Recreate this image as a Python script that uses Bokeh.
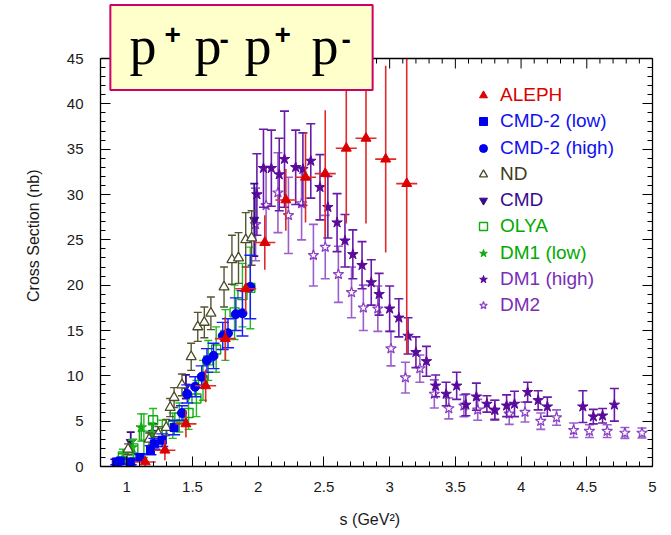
import math
import numpy as np
from bokeh.plotting import figure
from bokeh.models import (LinearAxis, SingleIntervalTicker, Range1d, Label, Span,
                          Legend, LegendItem, CustomJSTickFormatter)
from bokeh.embed import file_html
from bokeh.resources import INLINE

# ---------------- data ----------------
aleph_s = [1.14, 1.29, 1.45, 1.60, 1.75, 1.905, 2.05, 2.21, 2.36, 2.51, 2.67, 2.82, 2.97, 3.13]
aleph_v = [0.5, 1.8, 4.7, 8.9, 14.1, 19.6, 24.7, 29.4, 31.9, 32.3, 35.1, 36.2, 33.9, 31.2]
aleph_e = [0.5, 1.1, 1.5, 1.8, 2.4, 2.5, 3.0, 3.4, 5.0, 7.0, 8.3, 9.4, 10.3, 18.9]
aleph_xe = [0.08, 0.08, 0.08, 0.08, 0.08, 0.08, 0.08, 0.08, 0.08, 0.08, 0.08, 0.08, 0.08, 0.08]

cmd2l_s = [0.92, 0.95, 1.03, 1.10, 1.18, 1.21, 1.27, 1.36]
cmd2l_v = [0.5, 0.6, 0.5, 1.0, 1.8, 2.5, 2.9, 4.3]
cmd2l_e = [0.3, 0.3, 0.3, 0.4, 0.5, 0.6, 0.7, 0.8]

cmd2h_s = [1.42, 1.46, 1.52, 1.57, 1.61, 1.66, 1.73, 1.77, 1.83, 1.88, 1.94]
cmd2h_v = [5.9, 8.0, 8.8, 9.9, 11.7, 12.2, 14.4, 14.7, 16.8, 16.9, 19.8]
cmd2h_e = [0.8, 1.0, 1.1, 1.2, 1.3, 1.4, 1.5, 1.6, 1.8, 2.5, 3.5]

nd_s = [1.01, 1.17, 1.24, 1.30, 1.33, 1.36, 1.42, 1.49, 1.54, 1.59, 1.64, 1.74, 1.80, 1.85, 1.905, 1.95]
nd_v = [1.9, 3.0, 3.6, 4.3, 6.5, 7.6, 9.0, 12.1, 15.4, 15.9, 16.9, 19.8, 22.8, 23.0, 25.0, 25.2]
nd_e = [0.6, 0.7, 0.8, 0.9, 1.0, 1.1, 1.2, 1.5, 1.6, 1.7, 1.8, 2.2, 2.7, 2.8, 3.0, 3.0]

cmd_s = [1.03, 1.20, 1.45, 1.97]
cmd_v = [2.7, 3.7, 8.8, 27.2]
cmd_e = [1.1, 1.0, 1.3, 4.0]

olya_s = [0.97, 1.05, 1.13, 1.20, 1.27, 1.35, 1.40, 1.47, 1.53, 1.58, 1.62, 1.68, 1.75, 1.82, 1.88, 1.94]
olya_v = [1.1, 2.0, 3.4, 5.1, 3.9, 4.5, 5.4, 5.9, 7.5, 9.5, 11.7, 12.9, 14.5, 17.0, 18.9, 19.7]
olya_e = [0.8, 1.0, 2.4, 1.3, 1.2, 1.4, 1.6, 1.8, 2.0, 2.2, 2.2, 2.5, 2.8, 3.0, 3.5, 4.5]

dm1l_s = [0.97, 1.04, 1.11, 1.19, 1.27]
dm1l_v = [0.9, 2.1, 4.3, 3.6, 3.2]
dm1l_e = [0.5, 0.8, 1.5, 1.2, 1.0]

dm1h_s = [1.99, 2.04, 2.10, 2.16, 2.20, 2.285, 2.34, 2.40, 2.47, 2.53, 2.60, 2.66, 2.72, 2.79,
          2.86, 2.92, 3.00, 3.07, 3.14, 3.20, 3.28, 3.35, 3.43, 3.51, 3.58, 3.66, 3.74, 3.80,
          3.89, 3.95, 4.05, 4.13, 4.20, 4.47, 4.55, 4.62, 4.71]
dm1h_v = [30.0, 32.9, 32.9, 32.2, 33.9, 33.0, 32.8, 33.7, 30.8, 28.6, 26.9, 24.9, 23.4, 22.2,
          20.3, 19.0, 17.4, 16.4, 14.4, 12.6, 11.6, 8.9, 8.0, 8.9, 6.8, 7.7, 6.9, 6.25,
          6.7, 6.9, 8.2, 7.3, 6.6, 6.6, 5.5, 5.6, 6.8]
dm1h_e = [4.5, 4.3, 4.2, 4.0, 5.3, 4.1, 4.0, 4.1, 3.6, 3.4, 3.2, 2.9, 2.7, 2.6,
          2.5, 2.3, 2.5, 2.1, 2.0, 1.7, 1.65, 1.2, 1.3, 1.5, 1.2, 1.5, 0.9, 1.05,
          1.2, 1.4, 1.1, 1.05, 1.05, 1.75, 0.8, 0.8, 1.8]

dm2_s = [1.98, 2.06, 2.15, 2.23, 2.33, 2.42, 2.51, 2.61, 2.71, 2.80, 2.91, 3.01, 3.12, 3.23,
         3.34, 3.45, 3.565, 3.67, 3.80, 3.91, 4.03, 4.15, 4.27, 4.40, 4.52, 4.655, 4.79, 4.92]
dm2_v = [26.7, 28.8, 30.2, 27.7, 29.0, 23.3, 24.2, 21.2, 19.2, 17.5, 17.4, 13.0, 9.8, 10.8,
         8.0, 6.4, 6.7, 6.25, 6.2, 5.8, 6.0, 5.0, 5.4, 4.0, 3.9, 3.9, 3.7, 3.7]
dm2_e = [4.0, 4.3, 4.4, 4.2, 4.0, 3.4, 3.5, 3.1, 2.8, 2.5, 2.5, 1.9, 1.7, 1.5,
         1.55, 1.15, 1.2, 1.15, 1.1, 1.15, 1.1, 0.9, 0.85, 0.8, 0.7, 0.7, 0.6, 0.55]

legend_labels = ["ALEPH", "CMD-2 (low)", "CMD-2 (high)", "ND", "CMD", "OLYA",
                 "DM1 (low)", "DM1 (high)", "DM2"]
legend_colors = ["#dd0000", "#1111ee", "#1111ee", "#3b3b1e", "#3a0a8c", "#00aa00",
                 "#00aa00", "#7a2eb8", "#7a2eb8"]

title_base = ["p", "p", "p", "p"]
title_sup = ["+", "-", "+", "-"]

# axis extent
X_MIN, X_MAX = 0.8, 5.0
Y_MIN, Y_MAX = 0.0, 45.0

# ---------------- figure ----------------
# The frame reaches the top of the canvas so that the title box (which overlaps the
# top border of the plot) is not clipped; the visible top border is drawn at Y_MAX.
FRAME_H = 466.0
AXIS_TOP_PX = 58.0
y_top_view = Y_MAX * FRAME_H / (FRAME_H - AXIS_TOP_PX)

p = figure(width=671, height=535, x_range=Range1d(X_MIN, X_MAX),
           y_range=Range1d(Y_MIN, y_top_view),
           output_backend="svg", toolbar_location=None,
           min_border_left=100, min_border_right=19, min_border_top=0, min_border_bottom=69)
p.xgrid.visible = False
p.ygrid.visible = False
p.outline_line_color = None
p.background_fill_color = "white"
p.border_fill_color = "white"

bottom_ax = p.below[0]
left_ax = p.left[0]

xt = SingleIntervalTicker(interval=0.5, num_minor_ticks=5)
yt = SingleIntervalTicker(interval=5, num_minor_ticks=5)
bottom_ax.ticker = xt
left_ax.ticker = yt
left_ax.bounds = (Y_MIN, Y_MAX)
blank = CustomJSTickFormatter(code="return ''")
right_ax = LinearAxis(ticker=yt, formatter=blank, major_label_standoff=0,
                      major_label_text_font_size="8px", bounds=(Y_MIN, Y_MAX))
p.add_layout(right_ax, "right")

for ax in [bottom_ax, left_ax, right_ax]:
    ax.major_tick_in = 10
    ax.major_tick_out = 0
    ax.minor_tick_in = 5
    ax.minor_tick_out = 0
    ax.axis_line_color = "black"
    ax.axis_line_width = 1.3
    ax.major_tick_line_color = "black"
    ax.minor_tick_line_color = "black"

for ax in [bottom_ax, left_ax]:
    ax.major_label_text_font = "Liberation Sans"
    ax.major_label_text_font_size = "15px"
    ax.major_label_text_color = "#1a1a1a"
    ax.axis_label_text_font = "Liberation Sans"
    ax.axis_label_text_font_size = "16px"
    ax.axis_label_text_font_style = "normal"
    ax.axis_label_text_color = "#1a1a1a"

left_ax.major_label_standoff = 17
left_ax.axis_label = "Cross Section  (nb)"
left_ax.axis_label_standoff = 22
bottom_ax.major_label_standoff = 15
bottom_ax.axis_label = "s    (GeV\u00b2)"
bottom_ax.axis_label_standoff = 16

# top border with inward ticks (same tick spacing as the bottom axis)
p.add_layout(Span(location=Y_MAX, dimension="width", line_color="black", line_width=1.3))
top_ticks = np.round(np.arange(X_MIN, X_MAX + 1e-9, 0.1), 2)
top_major = [t for t in top_ticks if abs(t * 2 - round(t * 2)) < 1e-6]
top_minor = [t for t in top_ticks if abs(t * 2 - round(t * 2)) >= 1e-6]
p.ray(x=top_major, y=Y_MAX, length=10, length_units="screen", angle=-math.pi / 2,
      line_color="black", line_width=1)
p.ray(x=top_minor, y=Y_MAX, length=5, length_units="screen", angle=-math.pi / 2,
      line_color="black", line_width=1)


def errbars(s, v, e, color, cap=8, width=1.4, xerr=None):
    lo = [max(a - b, Y_MIN) for a, b in zip(v, e)]
    hi = [min(a + b, Y_MAX) for a, b in zip(v, e)]
    p.segment(x0=s, y0=lo, x1=s, y1=hi, line_color=color, line_width=width)
    if cap:
        p.scatter(s, hi, marker="dash", size=cap, line_color=color, line_width=width)
        p.scatter(s, lo, marker="dash", size=cap, line_color=color, line_width=width)
    if xerr is not None:
        xl = [a - b for a, b in zip(s, xerr)]
        xr = [a + b for a, b in zip(s, xerr)]
        p.segment(x0=xl, y0=v, x1=xr, y1=v, line_color=color, line_width=width)


# draw order: DM2, DM1 high, CMD, DM1 low, OLYA, ND, CMD-2, ALEPH
errbars(dm2_s, dm2_v, dm2_e, "#9a5fcc", cap=9, width=1.6)
r_dm2 = p.scatter(dm2_s, dm2_v, marker="star", size=11, fill_color="white",
                  line_color="#8a3fc4", line_width=1.2)

errbars(dm1h_s, dm1h_v, dm1h_e, "#6a1aa8", cap=9, width=1.6)
r_dm1h = p.scatter(dm1h_s, dm1h_v, marker="star", size=11, fill_color="#5a0a9a",
                   line_color="#5a0a9a")

errbars(cmd_s, cmd_v, cmd_e, "#3a0a8c", cap=8, width=1.8)
r_cmd = p.scatter(cmd_s, cmd_v, marker="inverted_triangle", size=9, fill_color="#3a0a8c",
                  line_color="#3a0a8c")

errbars(dm1l_s, dm1l_v, dm1l_e, "#11aa11", cap=8, width=1.4)
r_dm1l = p.scatter(dm1l_s, dm1l_v, marker="star", size=11, fill_color="#11aa11",
                   line_color="#11aa11")

errbars(olya_s, olya_v, olya_e, "#22bb22", cap=8, width=1.4)
r_olya = p.scatter(olya_s, olya_v, marker="square", size=9, fill_color=None,
                   line_color="#11aa11", line_width=1.4)

errbars(nd_s, nd_v, nd_e, "#55552f", cap=8, width=1.4)
r_nd = p.scatter(nd_s, nd_v, marker="triangle", size=10, fill_color="white",
                 line_color="#4a4a28", line_width=1.3)

errbars(cmd2l_s, cmd2l_v, cmd2l_e, "#1a1aff", cap=12, width=1.4)
r_cmd2l = p.scatter(cmd2l_s, cmd2l_v, marker="square", size=8, fill_color="#0000ee",
                    line_color="#0000ee")
errbars(cmd2h_s, cmd2h_v, cmd2h_e, "#1a1aff", cap=12, width=1.4)
r_cmd2h = p.scatter(cmd2h_s, cmd2h_v, marker="circle", size=9, fill_color="#0000ee",
                    line_color="#0000ee")

errbars(aleph_s, aleph_v, aleph_e, "#e02a2a", cap=0, width=1.6, xerr=aleph_xe)
r_aleph = p.scatter(aleph_s, aleph_v, marker="triangle", size=10, fill_color="#dd0000",
                    line_color="#dd0000")

# ---------------- legend (one per entry, each with its own text colour) ----------------
renderers = [r_aleph, r_cmd2l, r_cmd2h, r_nd, r_cmd, r_olya, r_dm1l, r_dm1h, r_dm2]
row_step = 26.25
for i, (lab, col, rr) in enumerate(zip(legend_labels, legend_colors, renderers)):
    leg = Legend(items=[LegendItem(label=lab, renderers=[rr])],
                 location=(373, 360 - row_step * i))
    leg.border_line_color = None
    leg.background_fill_alpha = 0
    leg.padding = 0
    leg.margin = 0
    leg.spacing = 0
    leg.glyph_width = 20
    leg.glyph_height = 20
    leg.label_height = 20
    leg.label_standoff = 7
    leg.label_text_font = "Liberation Sans"
    leg.label_text_font_size = "19px"
    leg.label_text_color = col
    leg.label_text_baseline = "middle"
    p.add_layout(leg)

# ---------------- title box ----------------
box = Label(x=241, y=47, x_units="canvas", y_units="canvas", text="\u00a0",
            text_align="center", text_baseline="middle", text_font_size="1px",
            background_fill_color="#ffffcc", border_line_color="#cc0066",
            border_line_width=2, padding=(131, 131, 42, 42))
p.add_layout(box)

base_px = [129, 194, 244, 311]
sup_px = [164, 219, 274, 341]
sup_py = [34, 39, 34, 39]
for ch, bx in zip(title_base, base_px):
    p.add_layout(Label(x=bx, y=45, x_units="canvas", y_units="canvas", text=ch,
                       text_align="left", text_baseline="middle",
                       text_font="Liberation Serif", text_font_size="54px",
                       text_color="black"))
for ch, sx, sy in zip(title_sup, sup_px, sup_py):
    p.add_layout(Label(x=sx, y=sy, x_units="canvas", y_units="canvas", text=ch,
                       text_align="left", text_baseline="middle",
                       text_font="Liberation Sans", text_font_style="bold",
                       text_font_size="28px", text_color="black"))

open("out.html", "w").write(file_html(p, INLINE))
